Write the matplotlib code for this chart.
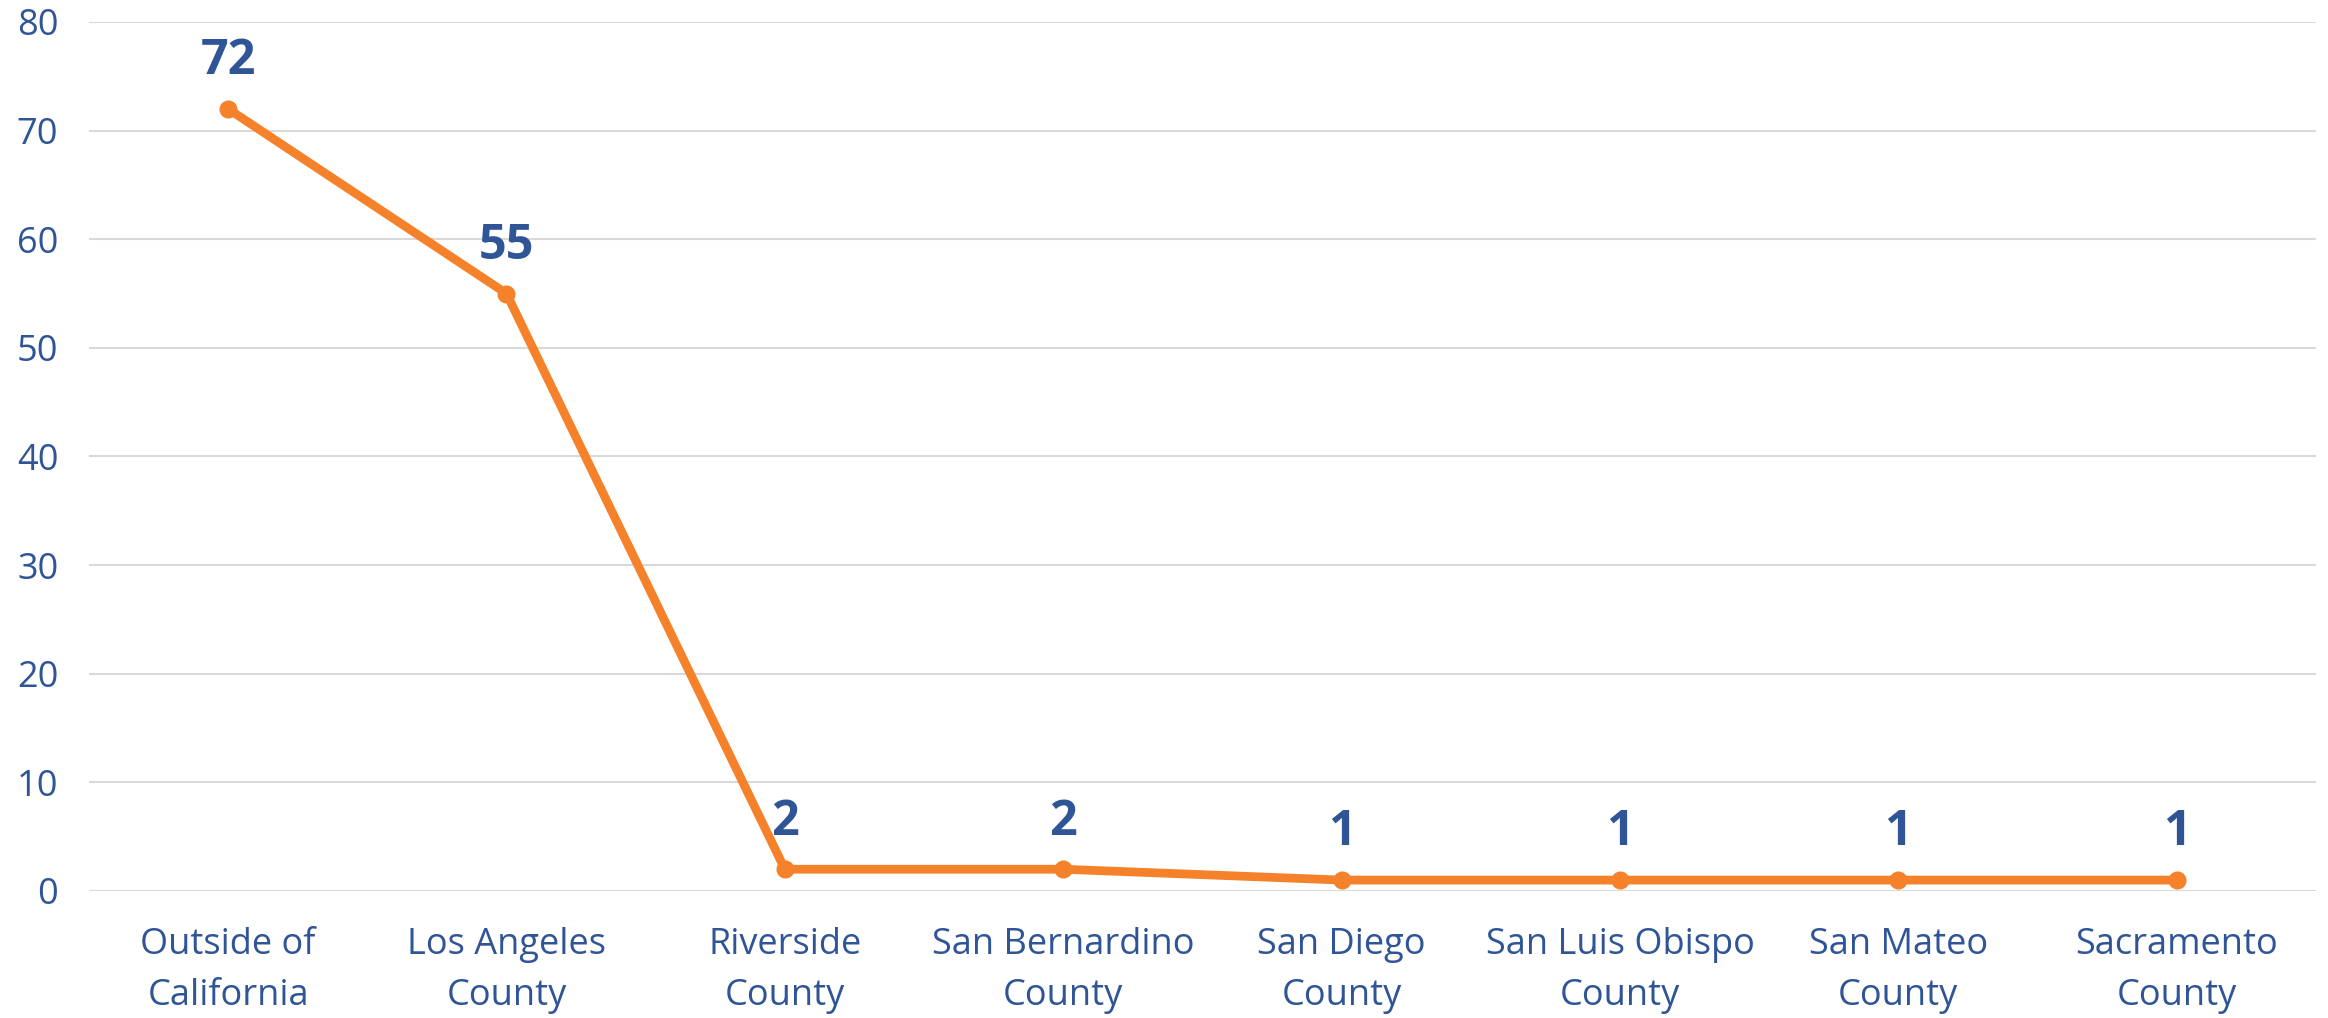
import matplotlib
matplotlib.use("Agg")
import matplotlib.pyplot as plt
from matplotlib import font_manager

categories = [
    "Outside of\nCalifornia", "Los Angeles\nCounty", "Riverside\nCounty",
    "San Bernardino\nCounty", "San Diego\nCounty", "San Luis Obispo\nCounty",
    "San Mateo\nCounty", "Sacramento\nCounty",
]
counts = [72, 55, 2, 2, 1, 1, 1, 1]
y_ticks = [0, 10, 20, 30, 40, 50, 60, 70, 80]

text_blue = "#2F5597"
line_orange = "#F5822A"
grid_grey = "#D9D9D9"

installed = {f.name for f in font_manager.fontManager.ttflist}
family = "Liberation Sans Narrow" if "Liberation Sans Narrow" in installed else "Open Sans"
plt.rcParams["font.family"] = [family, "DejaVu Sans"]

fig = plt.figure(figsize=(23.28, 10.18), dpi=100)
ax = fig.add_axes([0.0382, 0.1248, 0.9566, 0.8536])

x = list(range(len(categories)))
ax.plot(x, counts, color=line_orange, lw=6.3, marker="o", ms=12,
        solid_joinstyle="round", zorder=3, clip_on=False)

for xi, v in zip(x, counts):
    ax.annotate(str(v), xy=(xi, v), xytext=(0, 34), textcoords="offset points",
                ha="center", va="center", fontsize=35, fontweight="bold",
                color=text_blue)

ax.set_xlim(-0.5, len(categories) - 0.5)
ax.set_ylim(0, 80)
ax.set_yticks(y_ticks)
ax.set_xticks(x)
ax.set_xticklabels(categories, linespacing=1.55)
ax.tick_params(axis="both", length=0, colors=text_blue, labelsize=26)
ax.tick_params(axis="y", pad=22)
ax.tick_params(axis="x", pad=26)
ax.grid(True, axis="y", color=grid_grey, lw=1.5)
ax.set_axisbelow(True)
for s in ax.spines.values():
    s.set_visible(False)

fig.savefig("out.png", dpi=100)
